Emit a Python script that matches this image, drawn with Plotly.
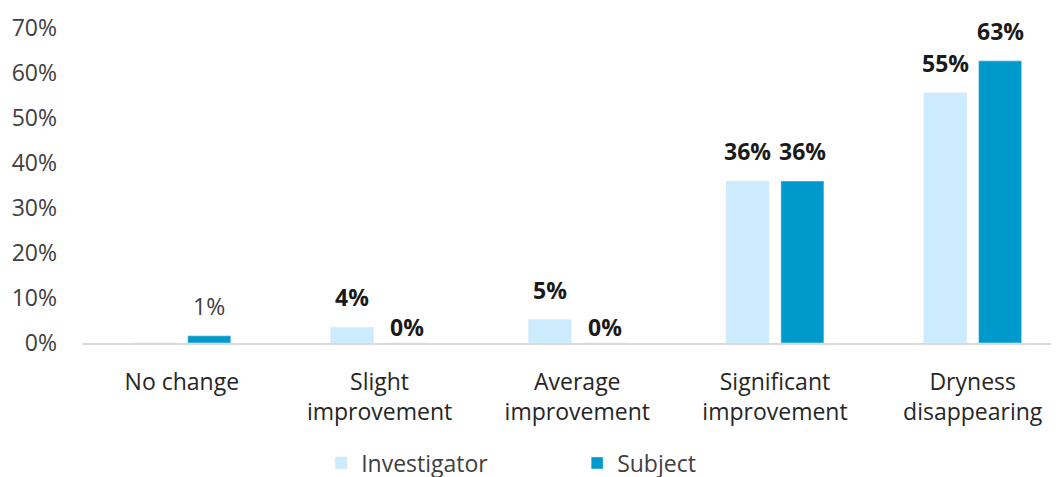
import plotly.graph_objects as go

categories = ["No change", "Slight<br>improvement", "Average<br>improvement",
              "Significant<br>improvement", "Dryness<br>disappearing"]
investigator = [0, 3.5, 5.2, 36, 55.6]
subject = [1.6, 0, 0, 36, 62.7]
investigator_labels = ["", "4%", "5%", "36%", "55%"]
subject_labels = ["1%", "0%", "0%", "36%", "63%"]
label_bold_investigator = [True, True, True, True, True]
label_bold_subject = [False, True, True, True, True]
y_ticks = [0, 10, 20, 30, 40, 50, 60, 70]

FONT = "Open Sans"
FS = 23
INV_COLOR = "#CCEBFD"
SUB_COLOR = "#0099CC"
BAR_W = 0.2175
GAP = 0.06

fig = go.Figure()
fig.add_trace(go.Bar(name="Investigator", x=categories, y=investigator,
                     marker_color=INV_COLOR, width=BAR_W, offset=-BAR_W - GAP / 2))
fig.add_trace(go.Bar(name="Subject", x=categories, y=subject,
                     marker_color=SUB_COLOR, width=BAR_W, offset=GAP / 2))

annotations = []
for series, labels, bolds, sign in [(investigator, investigator_labels, label_bold_investigator, -1),
                                    (subject, subject_labels, label_bold_subject, 1)]:
    for i, (v, t, b) in enumerate(zip(series, labels, bolds)):
        if not t:
            continue
        annotations.append(dict(
            x=i + sign * (BAR_W / 2 + GAP / 2), y=v, xref="x", yref="y",
            text=f"<b>{t}</b>" if b else t, showarrow=False,
            yanchor="bottom", yshift=-2 if v == 0 else 12,
            font=dict(family=FONT, size=FS, color="#1a1a1a" if b else "#404040"),
        ))

fig.update_layout(
    width=1059, height=477,
    margin=dict(l=75, r=0, t=20, b=142, autoexpand=False),
    paper_bgcolor="white", plot_bgcolor="white",
    barmode="overlay",
    showlegend=True,
    legend=dict(orientation="h", xref="container", yref="paper",
                x=(75 + 0.244 * 976) / 1059, xanchor="left", y=-0.381, yanchor="middle",
                font=dict(family=FONT, size=FS, color="#404040"),
                entrywidth=211, traceorder="normal"),
    annotations=annotations,
    font=dict(family=FONT, size=FS, color="#404040"),
)
fig.update_xaxes(range=[-0.5, 4.477], showline=True, linecolor="#D9D9D9", linewidth=2,
                 ticks="", showgrid=False, automargin=False, ticklabelstandoff=17,
                 tickfont=dict(family=FONT, size=FS, color="#262626"))
fig.update_yaxes(range=[0, 70], tickvals=y_ticks, ticktext=[f"{v}%" for v in y_ticks],
                 showgrid=False, zeroline=False, showline=False, ticks="",
                 ticklabelstandoff=25, automargin=False,
                 tickfont=dict(family=FONT, size=FS, color="#404040"))

fig.write_html("out.html")
